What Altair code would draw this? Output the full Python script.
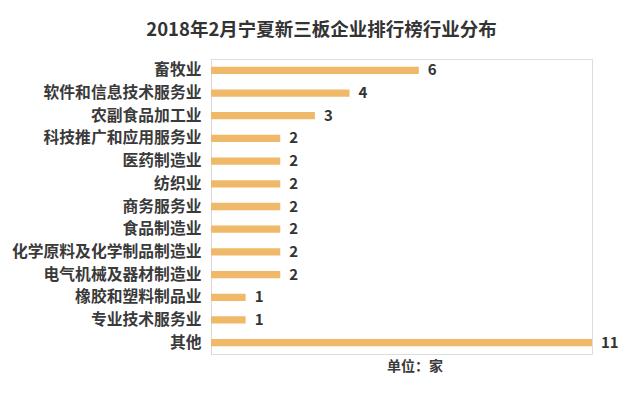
import altair as alt
import pandas as pd

industries = ["畜牧业", "软件和信息技术服务业", "农副食品加工业", "科技推广和应用服务业",
              "医药制造业", "纺织业", "商务服务业", "食品制造业", "化学原料及化学制品制造业",
              "电气机械及器材制造业", "橡胶和塑料制品业", "专业技术服务业", "其他"]
counts = [6, 4, 3, 2, 2, 2, 2, 2, 2, 2, 1, 1, 11]

df = pd.DataFrame({"industry": industries, "count": counts})

FONT = "Noto Sans CJK SC"
W, H = 381, 295

y_enc = alt.Y("industry:N", sort=industries, title=None,
              scale=alt.Scale(paddingInner=0.68, paddingOuter=0.34),
              axis=alt.Axis(ticks=False, labelPadding=10, labelFontSize=15.8,
                            labelFont=FONT, labelFontWeight="bold", labelColor="#3a3a3a",
                            domainColor="#d9d9d9", labelLimit=300))
x_enc = alt.X("count:Q", scale=alt.Scale(domain=[0, 11]), axis=None)

bars = alt.Chart(df).mark_bar(color="#F0B969").encode(x=x_enc, y=y_enc)
labels = alt.Chart(df).mark_text(align="left", dx=9, font=FONT, fontSize=15,
                                 fontWeight="bold", color="#333333").encode(
    x=x_enc, y=alt.Y("industry:N", sort=industries), text="count:Q")
unit = alt.Chart(pd.DataFrame({"t": ["单位：家"]})).mark_text(
    font=FONT, fontSize=14, fontWeight="bold", color="#3a3a3a").encode(
    x=alt.value(204), y=alt.value(308), text="t:N")

chart = alt.layer(bars, labels, unit).properties(
    width=W, height=H,
    title=alt.TitleParams("2018年2月宁夏新三板企业排行榜行业分布", font=FONT, fontSize=18.5,
                          fontWeight="bold", color="#333333", anchor="middle",
                          frame="group", dx=-80, offset=20),
    autosize=alt.AutoSizeParams(type="none"),
    padding={"left": 203, "top": 51, "right": 40, "bottom": 30},
).configure_view(stroke=None).configure(background="white")

chart.save("out.html", embed_options={"renderer": "svg", "actions": False})
